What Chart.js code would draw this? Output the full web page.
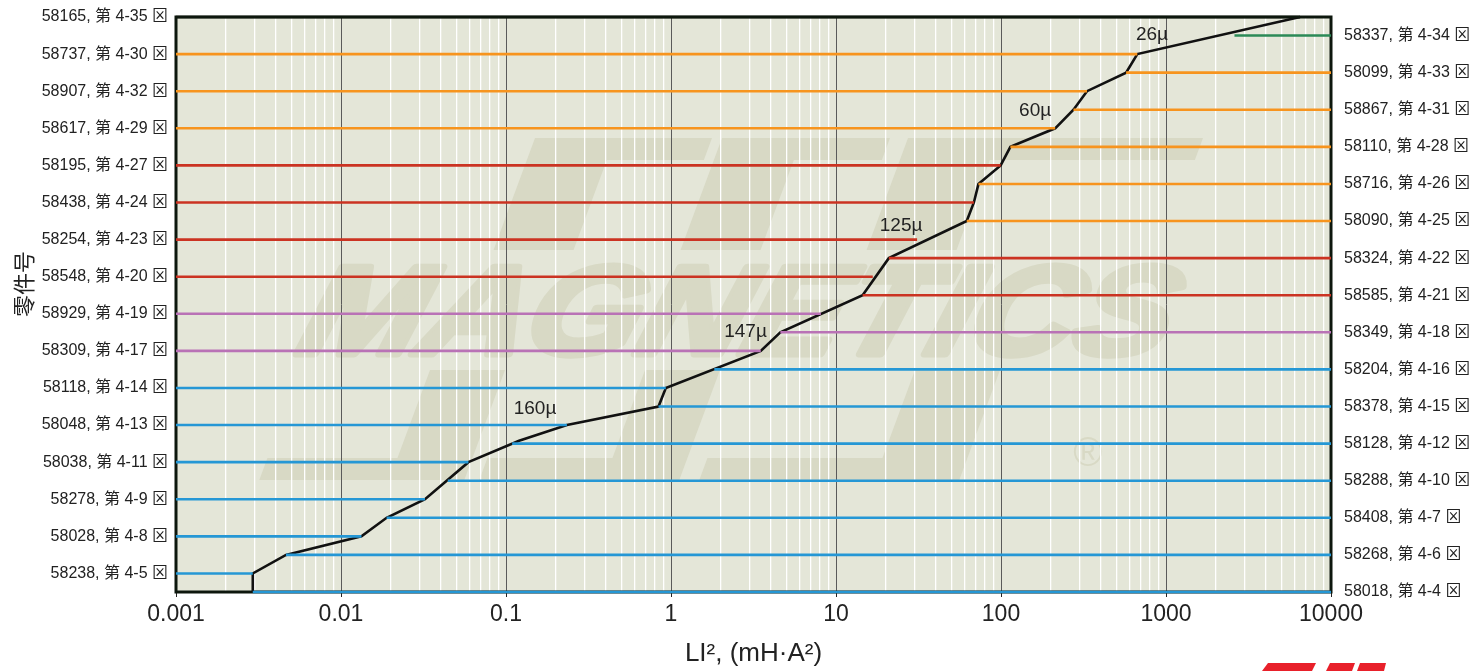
<!DOCTYPE html>
<html>
<head>
<meta charset="utf-8">
<script src="https://cdn.jsdelivr.net/npm/chart.js@4.4.1/dist/chart.umd.min.js"></script>
<style>
  html, body { margin: 0; padding: 0; background: #fff; }
  #wrap { width: 1482px; height: 671px; }
</style>
</head>
<body>
<div id="wrap"><canvas id="myChart"></canvas></div>
<script>
// rows from bottom (0) to top (31); even rows are labelled on the right, odd rows on the left
const partNos = ['58018','58238','58268','58028','58408','58278','58288','58038','58128','58048','58378','58118',
  '58204','58309','58349','58929','58585','58548','58324','58254','58090','58438','58716','58195',
  '58110','58617','58867','58907','58099','58737','58337','58165'];
const pages = ['4-4','4-5','4-6','4-8','4-7','4-9','4-10','4-11','4-12','4-13','4-15','4-14',
  '4-16','4-17','4-18','4-19','4-21','4-20','4-22','4-23','4-25','4-24','4-26','4-27',
  '4-28','4-29','4-31','4-32','4-33','4-30','4-34','4-35'];
// LI² where each row's line meets the boundary curve
const rowEdge = [0.00292, 0.00292, 0.00464, 0.0133, 0.0189, 0.0323, 0.0444, 0.0592, 0.109, 0.234, 0.84, 0.93,
  1.83, 3.5, 4.6, 8.1, 14.5, 16.7, 20.9, 31, 62, 68.5, 73, 99.5,
  114, 213, 275, 332, 573, 670, 2600, 6490];
const rowGroup = ['blue','blue','blue','blue','blue','blue','blue','blue','blue','blue','blue','blue',
  'blue','purple','purple','purple','red','red','red','red','orange','red','orange','red',
  'orange','orange','orange','orange','orange','orange','green','edge'];
const groupColors = { blue: '#2597d5', purple: '#b972b6', red: '#cb3322', orange: '#f7941e', green: '#2b8a57', edge: '#0d170d' };

// boundary curve (black)
const curveX = [0.00292, 0.00292, 0.00464, 0.0133, 0.0189, 0.0323, 0.0592, 0.12, 0.234, 0.84, 0.93, 3.5, 4.6,
  14.5, 20.9, 62, 68.5, 73, 99.5, 114, 213, 275, 332, 573, 670, 6490];
const curveRow = [0, 1, 2, 3, 4, 5, 7, 8.15, 9, 10, 11, 13, 14,
  16, 18, 20, 21, 22, 23, 24, 25, 26, 27, 28, 29, 31];

// permeability labels
const muLabels = ['160µ', '147µ', '125µ', '60µ', '26µ'];
const muX = [0.15, 2.83, 24.8, 161, 822];
const muRow = [9.87, 14.03, 19.73, 25.93, 30.03];

const decades = [0.001, 0.01, 0.1, 1, 10, 100, 1000, 10000];
const decadeLabels = ['0.001', '0.01', '0.1', '1', '10', '100', '1000', '10000'];

const FONT = "'Liberation Sans', Arial, 'Noto Sans CJK SC', 'DejaVu Sans', sans-serif";
const xMin = decades[0], xMax = decades[decades.length - 1];
const topRow = partNos.length - 1;

function rowLabel(i) {
  return partNos[i] + ', 第 ' + pages[i] + ' ⊠';
}
function decadeIndex(v) {
  return decades.findIndex(d => Math.abs(d - v) / d < 1e-9);
}

// minor ticks 1..9 in each decade, for the grid
const gridValues = [];
for (let k = 0; k < decades.length - 1; k++) {
  for (let m = 1; m <= 9; m++) gridValues.push(m * decades[k]);
}
gridValues.push(xMax);

// one line per row: left rows run from the left edge to the curve, right rows from the curve to the right edge
const datasets = [];
partNos.forEach((p, i) => {
  const pts = (i % 2 === 1)
    ? [{ x: xMin, y: i }, { x: rowEdge[i], y: i }]
    : [{ x: rowEdge[i], y: i }, { x: xMax, y: i }];
  datasets.push({
    label: p,
    data: pts,
    showLine: true,
    clip: false,
    borderColor: groupColors[rowGroup[i]],
    borderWidth: 2.6,
    pointRadius: 0,
    yAxisID: 'yL'
  });
});
datasets.push({
  label: 'boundary',
  data: curveX.map((x, i) => ({ x: x, y: curveRow[i] })),
  showLine: true,
  clip: false,
  borderColor: '#111',
  borderWidth: 2.6,
  pointRadius: 0,
  yAxisID: 'yL'
});

function poly(ctx, pts) {
  ctx.beginPath();
  ctx.moveTo(pts[0][0], pts[0][1]);
  for (let i = 1; i < pts.length; i++) ctx.lineTo(pts[i][0], pts[i][1]);
  ctx.closePath();
  ctx.fill();
}

// plot background + faint company watermark
const backdrop = {
  id: 'backdrop',
  beforeDraw(chart) {
    const { ctx, chartArea: a } = chart;
    ctx.save();
    ctx.fillStyle = '#e4e6d8';
    ctx.fillRect(a.left, a.top, a.right - a.left, a.bottom - a.top);
    ctx.beginPath();
    ctx.rect(a.left, a.top, a.right - a.left, a.bottom - a.top);
    ctx.clip();
    ctx.fillStyle = '#d8d9c5';
    ctx.strokeStyle = '#d8d9c5';
    const s = 0.37;
    // top bars with stems going down
    [[535, 712, 80], [722, 890, 80], [908, 1203, 90]].forEach(([xa, xb, w]) => {
      poly(ctx, [[xa, 138], [xb, 138], [xb - s * 22, 160], [xa + w - s * 22, 160],
        [xa + w - s * 112, 250], [xa - s * 112, 250]]);
    });
    // bottom bars with stems going up
    [[300, 505, 75], [520, 720, 75], [740, 1000, 85]].forEach(([xa, xb, w]) => {
      poly(ctx, [[xa - s * 110, 480], [xb - s * 110, 480], [xb, 370], [xb - w, 370],
        [xb - w - s * 88, 458], [xa - s * 88, 458]]);
    });
    ctx.font = 'bold italic 126px ' + FONT;
    const tw = ctx.measureText('MAGNETICS').width;
    ctx.translate(294, 354);
    ctx.transform(1, 0, -0.3, 1, 0, 0);
    ctx.scale(870 / tw, 1);
    ctx.textBaseline = 'alphabetic';
    ctx.lineWidth = 7;
    ctx.lineJoin = 'round';
    ctx.strokeText('MAGNETICS', 0, 0);
    ctx.fillText('MAGNETICS', 0, 0);
    ctx.restore();
    ctx.save();
    ctx.fillStyle = '#d8d9c5';
    ctx.font = '40px ' + FONT;
    ctx.textAlign = 'center';
    ctx.textBaseline = 'middle';
    ctx.fillText('®', 1088, 455);
    ctx.restore();
  },
  beforeDatasetsDraw(chart) {
    const { ctx, chartArea: a } = chart;
    ctx.save();
    ctx.strokeStyle = '#0d170d';
    ctx.lineWidth = 3;
    ctx.strokeRect(a.left, a.top, a.right - a.left, a.bottom - a.top);
    ctx.restore();
  },
  afterDatasetsDraw(chart) {
    const { ctx, scales } = chart;
    ctx.save();
    ctx.fillStyle = '#222';
    ctx.font = '19px ' + FONT;
    ctx.textAlign = 'center';
    ctx.textBaseline = 'middle';
    muLabels.forEach((t, i) => {
      ctx.fillText(t, scales.x.getPixelForValue(muX[i]), scales.yL.getPixelForValue(muRow[i]));
    });
    ctx.restore();
  },
  afterDraw(chart) {
    const { ctx } = chart;
    // y axis title
    ctx.save();
    ctx.fillStyle = '#222';
    ctx.font = "22px 'Noto Sans CJK SC', sans-serif";
    ctx.textAlign = 'center';
    ctx.textBaseline = 'middle';
    ctx.translate(24, 284);
    ctx.rotate(-Math.PI / 2);
    ctx.fillText('零件号', 0, 0);
    ctx.restore();
    // logo corner
    ctx.save();
    ctx.fillStyle = '#e8202a';
    poly(ctx, [[1268, 663], [1316, 663], [1312, 671], [1262, 671]]);
    poly(ctx, [[1330, 663], [1355, 663], [1352, 671], [1326, 671]]);
    poly(ctx, [[1360, 663], [1386, 663], [1384, 671], [1357, 671]]);
    ctx.restore();
  }
};

const isDecade = c => c.tick && decadeIndex(c.tick.value) >= 0;

function fitY(width) {
  return s => {
    s.width = width;
    s.paddingTop = 0;
    s.paddingBottom = 0;
  };
}

const ctx = document.getElementById('myChart').getContext('2d');
const chart = new Chart(ctx, {
  type: 'scatter',
  data: { datasets: datasets },
  options: {
    responsive: true,
    maintainAspectRatio: false,
    animation: false,
    layout: { padding: { top: 17, left: 0, right: 0, bottom: 0 } },
    plugins: { legend: { display: false }, tooltip: { enabled: false } },
    scales: {
      x: {
        type: 'logarithmic',
        position: 'bottom',
        min: xMin,
        max: xMax,
        afterBuildTicks: s => { s.ticks = gridValues.map(v => ({ value: v })); },
        afterFit: s => { s.height = 79; s.paddingLeft = 0; s.paddingRight = 0; },
        border: { display: false },
        grid: {
          color: c => isDecade(c) ? '#5a5a5a' : '#ffffff',
          lineWidth: c => isDecade(c) ? 1 : 1.3,
          drawTicks: true,
          tickLength: 5,
          tickColor: c => isDecade(c) ? '#222' : 'rgba(0,0,0,0)'
        },
        ticks: {
          autoSkip: false,
          maxRotation: 0,
          padding: 4,
          color: '#222',
          font: { size: 23, family: FONT },
          callback: v => {
            const k = decadeIndex(v);
            return k >= 0 ? decadeLabels[k] : '';
          }
        },
        title: {
          display: true,
          text: 'LI², (mH·A²)',
          color: '#222',
          font: { size: 26, family: FONT },
          padding: { top: 0, bottom: 2 }
        }
      },
      yL: {
        type: 'linear',
        position: 'left',
        min: 0,
        max: topRow,
        afterFit: fitY(176),
        border: { display: false },
        grid: { display: false, drawTicks: false },
        ticks: {
          stepSize: 1,
          autoSkip: false,
          padding: 8,
          color: '#222',
          font: { size: 16, family: FONT },
          callback: v => (Number.isInteger(v) && v % 2 === 1) ? rowLabel(v) : ''
        }
      },
      yR: {
        type: 'linear',
        position: 'right',
        min: 0,
        max: topRow,
        afterFit: fitY(151),
        border: { display: false },
        grid: { display: false, drawTicks: false },
        ticks: {
          stepSize: 1,
          autoSkip: false,
          padding: 13,
          color: '#222',
          font: { size: 16, family: FONT },
          callback: v => (Number.isInteger(v) && v % 2 === 0) ? rowLabel(v) : ''
        }
      }
    }
  },
  plugins: [backdrop]
});
</script>
</body>
</html>
